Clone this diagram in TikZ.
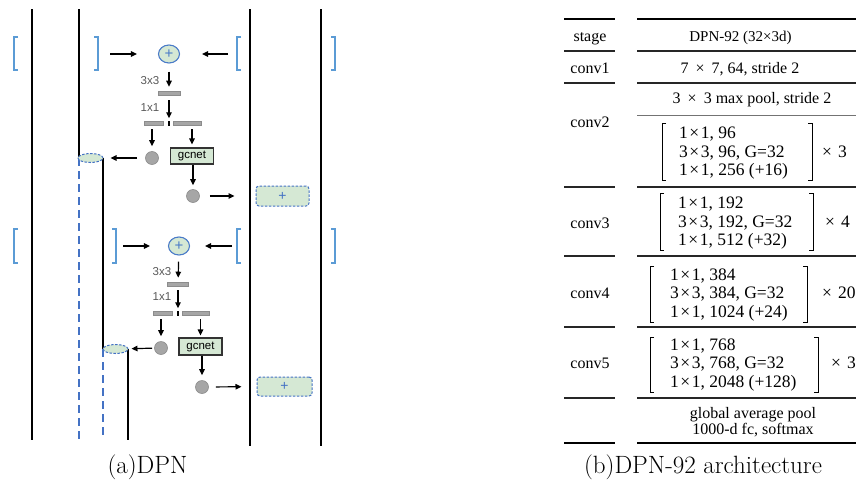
\documentclass[tikz,border=0pt]{standalone}
\usepackage{fontspec}
\newfontfamily\hvfont{Liberation Sans}
\newfontfamily\tmfont{Liberation Serif}
\usetikzlibrary{shapes.geometric,arrows.meta}
\definecolor{brblue}{HTML}{5B9BD5}
\definecolor{cblue}{HTML}{4A7BC8}
\definecolor{lgreen}{HTML}{D5E8D4}
\definecolor{dblue}{HTML}{4472C4}
\definecolor{bargray}{HTML}{A6A6A6}
\definecolor{bardraw}{HTML}{8C8C8C}
\definecolor{lblgray}{HTML}{595959}
\newcommand{\wx}{\hspace{7pt}×\hspace{7pt}}
\newcommand{\tx}{\hspace{1.5pt}×\hspace{1.5pt}}
\begin{document}
\begin{tikzpicture}[x=1pt,y=-1pt,
  vl/.style={line width=2.2pt, draw=black},
  dl/.style={line width=2.4pt, draw=dblue, dash pattern=on 8pt off 5pt},
  arr/.style={draw=black, line width=1.2pt, -{Triangle[length=6pt,width=5.5pt]}},
  brk/.style={draw=brblue, line width=1.6pt},
  plusnode/.style={ellipse, draw=cblue, line width=1.1pt, fill=lgreen, minimum width=21pt, minimum height=18pt, inner sep=0pt, text=cblue, font=\hvfont\fontsize{15}{15}\selectfont},
  bar/.style={rectangle, fill=bargray, draw=bardraw, line width=0.6pt, minimum height=4pt, inner sep=0pt},
  gdot/.style={circle, fill=bargray, draw=bardraw, line width=0.6pt, minimum size=13pt, inner sep=0pt},
  gcbox/.style={rectangle, fill=lgreen, draw=black!80, line width=1.2pt, minimum width=43pt, minimum height=16pt, inner sep=0pt, font=\hvfont\fontsize{11.5}{12}\selectfont},
  ell/.style={ellipse, fill=lgreen, draw=dblue, line width=1pt, dash pattern=on 2.5pt off 1.5pt, minimum width=25pt, minimum height=9pt, inner sep=0pt},
  addbox/.style={rectangle, rounded corners=3pt, fill=lgreen, draw=dblue, line width=1pt, dash pattern=on 2.5pt off 1.5pt, inner sep=0pt, text=dblue, font=\hvfont\fontsize{14}{14}\selectfont},
  lbl/.style={text=lblgray, font=\hvfont\fontsize{11.5}{12}\selectfont, inner sep=0pt},
  tickn/.style={rectangle, fill=black, minimum width=1.6pt, minimum height=5pt, inner sep=0pt},
  tt/.style={font=\tmfont\fontsize{16}{18}\selectfont, inner sep=0pt, text height=11pt, text depth=0pt},
  bt/.style={font=\tmfont\fontsize{17.5}{18}\selectfont, inner sep=0pt, text height=11pt, text depth=0pt, anchor=west},
  trule/.style={line width=1.1pt, draw=black!85},
  thrule/.style={line width=2pt, draw=black},
  tbr/.style={line width=1pt, draw=black},
  captxt/.style={font=\fontsize{25}{27}\selectfont, inner sep=0pt}
]
\useasboundingbox (0,0) rectangle (856,482);
\clip (0,0) rectangle (856,482);
\fill[white] (0,0) rectangle (856,482);

% ---------- vertical lines ----------
\draw[vl] (32,9) -- (32,440);
\draw[vl] (79,9) -- (79,158);
\draw[dl] (79,158) -- (79,440);
\draw[vl] (103,158) -- (103,349);
\draw[dl] (103,349) -- (103,437);
\draw[vl] (128,349) -- (128,440);
\draw[vl] (250,9) -- (250,446);
\draw[vl] (321,9) -- (321,446);

% ---------- brackets ----------
\draw[brk] (18,37) -- (14,37) -- (14,70) -- (18,70);
\draw[brk] (94,37) -- (98,37) -- (98,70) -- (94,70);
\draw[brk] (241,37) -- (237,37) -- (237,70) -- (241,70);
\draw[brk] (331,37) -- (335,37) -- (335,70) -- (331,70);
\draw[brk] (18,229) -- (14,229) -- (14,263) -- (18,263);
\draw[brk] (112,229) -- (116,229) -- (116,263) -- (112,263);
\draw[brk] (241,229) -- (237,229) -- (237,263) -- (241,263);
\draw[brk] (331,229) -- (335,229) -- (335,263) -- (331,263);

% ---------- block 1 ----------
\coordinate (s1l) at (110,54);
\coordinate (s1r) at (228,54);
\node[plusnode] (p1) at (169,54) {+};
\node[bar, minimum width=22pt] (b1) at (169,93) {};
\node[lbl] (l1a) at (150,81) {3x3};
\node[lbl] (l1b) at (150,108) {1x1};
\node[tickn] (t1) at (169,123) {};
\node[bar, minimum width=19pt] (bl1) at (153.5,123) {};
\node[bar, minimum width=28pt] (br1) at (187,123) {};
\node[gdot] (g1) at (152,158) {};
\node[gcbox] (gc1) at (192,156) {gcnet};
\node[gdot] (g1b) at (193,196) {};
\node[addbox, minimum width=53pt, minimum height=20pt] (r1) at (282.5,196) {+};
\node[ell] (e1) at (90.5,158) {};

\draw[arr, shorten >=21pt] (s1l) -- (p1);
\draw[arr, shorten >=22pt] (s1r) -- (p1);
\draw[arr, shorten <=8pt, shorten >=4pt] (p1) -- (b1);
\draw[arr, shorten <=5pt, shorten >=2pt] (b1) -- (t1);
\draw[arr, shorten >=5pt] (g1 |- bl1.south) ++(0,4) -- (g1);
\draw[arr, shorten >=3pt] (gc1.north |- br1.south) ++(0,4) -- (gc1.north);
\draw[arr, shorten >=4pt] (g1b |- gc1.south) -- (g1b);
\draw[arr, shorten <=10pt, shorten >=21pt] (g1b) -- (r1);
\draw[arr, shorten <=8pt, shorten >=7pt] (g1) -- (e1);

% ---------- block 2 ----------
\coordinate (s2l) at (123,246);
\coordinate (s2r) at (232,246);
\node[plusnode] (p2) at (179,246) {+};
\node[bar, minimum width=21pt] (b2) at (178,284) {};
\node[lbl] (l2a) at (162,272) {3x3};
\node[lbl] (l2b) at (162,297) {1x1};
\node[tickn] (t2) at (178,313) {};
\node[bar, minimum width=19pt] (bl2) at (162.5,313) {};
\node[bar, minimum width=27pt] (br2) at (195.5,313) {};
\node[gdot] (g2) at (161,348) {};
\node[gcbox, minimum height=17pt] (gc2) at (200.5,346.5) {gcnet};
\node[gdot] (g2b) at (202,387) {};
\node[addbox, minimum width=55pt, minimum height=19pt] (r2) at (284.5,386.5) {+};
\node[ell] (e2) at (115.5,349) {};

\draw[arr, shorten >=18pt] (s2l) -- (p2);
\draw[arr, shorten >=15pt] (s2r) -- (p2);
\draw[arr, shorten <=6pt, shorten >=4pt] (p2) -- (b2);
\draw[arr, shorten <=4pt, shorten >=2pt] (b2) -- (t2);
\draw[arr, shorten >=5pt] (g2 |- bl2.south) ++(0,4) -- (g2);
\draw[arr, shorten >=2pt] (gc2.north |- br2.south) ++(0,4) -- (gc2.north);
\draw[arr, shorten >=5pt] (g2b |- gc2.south) -- (g2b);
\draw[arr, shorten <=7pt, shorten >=15pt] (g2b) -- (r2);
\draw[arr, shorten <=2pt, shorten >=3pt] (g2) -- (e2);

\node[captxt] (capa) at (147.5,467) {(a)DPN};

% ---------- table ----------
\draw[thrule] (564,19) -- (615,19);
\draw[thrule] (637,19) -- (860,19);
\foreach \yy in {51,83,187,256,327,398} {
  \draw[trule] (564,\yy) -- (615,\yy);
  \draw[trule] (637,\yy) -- (860,\yy);
}
\draw[line width=0.8pt, draw=black!55] (637,115) -- (860,115);
\draw[thrule] (564,443) -- (615,443);
\draw[thrule] (637,443) -- (860,443);

\node[tt] (hs) at (590,36) {stage};
\node[tt, font=\tmfont\fontsize{15}{18}\selectfont] (hd) at (740.5,36) {DPN-92 (32×3d)};
\node[tt] (c1) at (590,68) {conv1};
\node[tt] (c1t) at (740,68) {7\wx 7, 64, stride 2};
\node[tt] (mp) at (752,98) {3\wx 3 max pool, stride 2};

\node[tt] (c2) at (590,122) {conv2};
\node[bt] (c2a) at (679,133) {1\tx 1, 96};
\node[bt] (c2b) at (679,152) {3\tx 3, 96, G=32};
\node[bt] (c2c) at (679,170) {1\tx 1, 256 (+16)};
\draw[tbr] (666,123) -- (662,123) -- (662,180) -- (666,180);
\draw[tbr] (808,123) -- (812,123) -- (812,180) -- (808,180);
\node[bt] (c2x) at (822,152) {×\hspace{6pt}3};

\node[tt] (c3) at (590,223) {conv3};
\node[bt] (c3a) at (678,203) {1\tx 1, 192};
\node[bt] (c3b) at (678,222) {3\tx 3, 192, G=32};
\node[bt] (c3c) at (678,240) {1\tx 1, 512 (+32)};
\draw[tbr] (664,193) -- (660,193) -- (660,250) -- (664,250);
\draw[tbr] (809,193) -- (813,193) -- (813,250) -- (809,250);
\node[bt] (c3x) at (825,222) {×\hspace{6pt}4};

\node[tt] (c4) at (590,293) {conv4};
\node[bt] (c4a) at (670,275) {1\tx 1, 384};
\node[bt] (c4b) at (670,293) {3\tx 3, 384, G=32};
\node[bt] (c4c) at (670,312) {1\tx 1, 1024 (+24)};
\draw[tbr] (654,266) -- (650,266) -- (650,322) -- (654,322);
\draw[tbr] (803,266) -- (807,266) -- (807,322) -- (803,322);
\node[bt] (c4x) at (822,293) {×\hspace{6pt}20};

\node[tt] (c5) at (590,363) {conv5};
\node[bt] (c5a) at (670,345) {1\tx 1, 768};
\node[bt] (c5b) at (670,363) {3\tx 3, 768, G=32};
\node[bt] (c5c) at (670,382) {1\tx 1, 2048 (+128)};
\draw[tbr] (654,337) -- (650,337) -- (650,392) -- (654,392);
\draw[tbr] (814,337) -- (818,337) -- (818,392) -- (814,392);
\node[bt] (c5x) at (831,363) {×\hspace{6pt}3};

\node[tt] (gp) at (753,413) {global average pool};
\node[tt] (fc) at (753,428.5) {1000-d fc, softmax};

\node[captxt] (capb) at (703,467) {(b)DPN-92 architecture};
\end{tikzpicture}
\end{document}
